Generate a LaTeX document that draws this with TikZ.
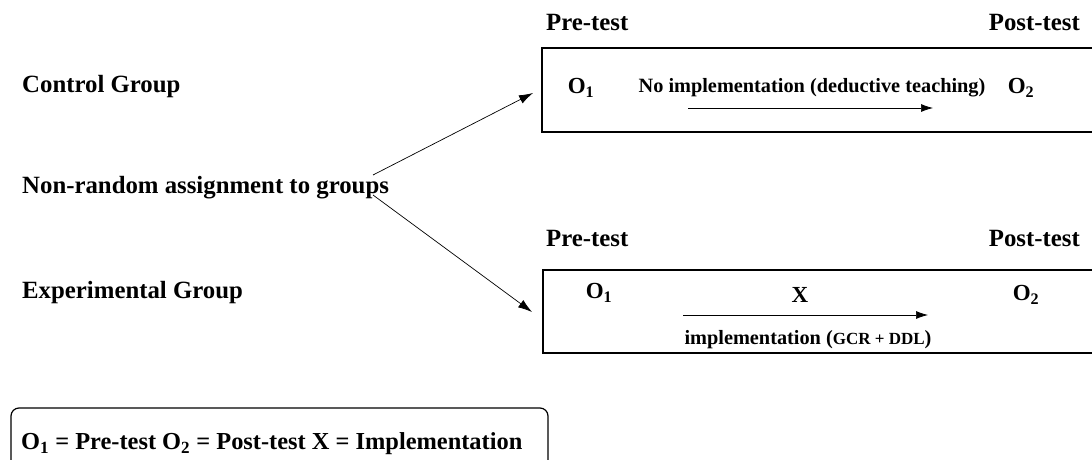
\documentclass[tikz,border=0pt]{standalone}
\usepackage{fontspec}
\setmainfont{Liberation Serif}
\usetikzlibrary{arrows.meta}
\newcommand{\fs}[1]{\fontsize{#1}{#1}\selectfont}
\begin{document}
\begin{tikzpicture}[x=1pt,y=-1pt,
  lbl/.style={inner sep=0pt,font=\bfseries\fs{24.8}},
  sml/.style={inner sep=0pt,font=\bfseries\fs{20.3}},
  obs/.style={inner sep=0pt,font=\bfseries\fs{23}},
  grpbox/.style={draw,line width=1.8pt},
  tip/.style={-{Latex[length=12pt,width=8pt]}},
  diag/.style={line width=0.7pt,-{Latex[length=14pt,width=9pt]}}]
\useasboundingbox (0,0) rectangle (1092,460);
\clip (0,0) rectangle (1092,460);
% labels
\node[lbl,anchor=west] (ctl) at (22,87) {Control Group};
\node[lbl,anchor=west] (asg) at (22,188) {Non-random assignment to groups};
\node[lbl,anchor=west] (exp) at (22,293) {Experimental Group};
\node[lbl,anchor=west] (pre1) at (546,23) {Pre-test};
\node[lbl,anchor=east] (post1) at (1080,23) {Post-test};
\node[lbl,anchor=west] (pre2) at (546,238) {Pre-test};
\node[lbl,anchor=east] (post2) at (1080,238) {Post-test};
% boxes
\draw[grpbox] (1120,48) -- (542,48) -- (542,132) -- (1120,132);
\draw[grpbox] (1120,270) -- (543,270) -- (543,353) -- (1120,353);
\coordinate (b1) at (533,93);
\coordinate (b2) at (532,312);
\coordinate (s1) at (373,175);
\coordinate (s2) at (373,195);
\draw[diag] (s1) -- (b1);
\draw[diag] (s2) -- (b2);
% top box contents
\node[obs] (o1a) at (581,88) {O\textsubscript{1}};
\node[sml] (noimp) at (812,88) {No implementation (deductive teaching)};
\node[obs] (o2a) at (1021,88) {O\textsubscript{2}};
\coordinate (a1s) at (688,108);
\coordinate (a1e) at (933,108);
\draw[tip,line width=0.7pt] (a1s) -- (a1e);
% bottom box contents
\node[obs] (o1b) at (599,293) {O\textsubscript{1}};
\node[obs] (xx) at (800,295) {X};
\node[obs] (o2b) at (1026,295) {O\textsubscript{2}};
\coordinate (a2s) at (683,315);
\coordinate (a2e) at (928,315);
\draw[tip,line width=0.7pt] (a2s) -- (a2e);
\node[sml] (impl) at (808,340) {implementation ({\fs{17}GCR + DDL})};
% legend
\draw[line width=1.2pt,rounded corners=8pt] (11,408) rectangle (548,472);
\node[inner sep=0pt,anchor=west,font=\bfseries\fs{24.4}] (leg) at (21,444) {O\textsubscript{1} = Pre-test O\textsubscript{2} = Post-test X = Implementation};
\end{tikzpicture}
\end{document}
